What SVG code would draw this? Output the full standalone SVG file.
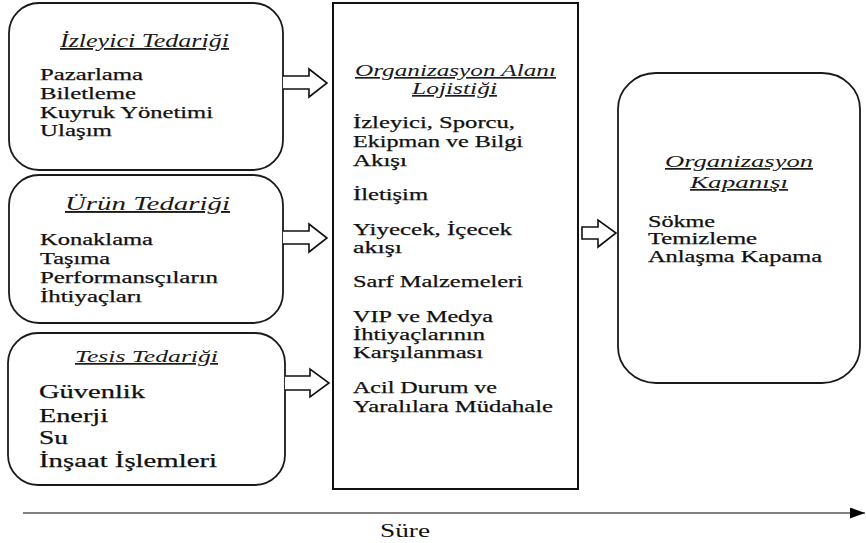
<svg xmlns="http://www.w3.org/2000/svg" width="866" height="543" viewBox="0 0 866 543">
<defs>
<style>
.box{fill:#fff;stroke:#1a1a1a;stroke-width:1.8}
.t{font-family:'Liberation Serif','Times New Roman',serif;font-style:italic;fill:#1a1a1a;text-decoration:underline}
.b{font-family:'Liberation Serif','Times New Roman',serif;fill:#111;stroke:#111;stroke-width:0.25}
.arr{fill:#fff;stroke:#111;stroke-width:1.6;stroke-linejoin:miter}
</style>
<marker id="ah" viewBox="0 0 15 11" refX="15" refY="5.5" markerWidth="15" markerHeight="11" markerUnits="userSpaceOnUse" orient="auto">
<path d="M0,0 L15,5.5 L0,11 Z" fill="#000"/>
</marker>
</defs>
<rect width="866" height="543" fill="#fff"/>

<g id="izleyici">
<rect class="box" x="9" y="3" width="274" height="167" rx="30" ry="30"/>
<text class="t" x="60" y="47" font-size="18" textLength="169" lengthAdjust="spacingAndGlyphs">İzleyici Tedariği</text>
<text class="b" font-size="17" x="40" y="80" textLength="103" lengthAdjust="spacingAndGlyphs">Pazarlama</text>
<text class="b" font-size="17" x="40" y="99" textLength="96" lengthAdjust="spacingAndGlyphs">Biletleme</text>
<text class="b" font-size="17" x="40" y="118" textLength="173" lengthAdjust="spacingAndGlyphs">Kuyruk Yönetimi</text>
<text class="b" font-size="17" x="40" y="136" textLength="72" lengthAdjust="spacingAndGlyphs">Ulaşım</text>
</g>

<g id="urun">
<rect class="box" x="9" y="175" width="274" height="148" rx="30" ry="30"/>
<text class="t" x="65" y="210" font-size="19" textLength="165" lengthAdjust="spacingAndGlyphs">Ürün Tedariği</text>
<text class="b" font-size="17" x="40" y="245" textLength="113" lengthAdjust="spacingAndGlyphs">Konaklama</text>
<text class="b" font-size="17" x="40" y="264" textLength="70" lengthAdjust="spacingAndGlyphs">Taşıma</text>
<text class="b" font-size="17" x="40" y="283" textLength="178" lengthAdjust="spacingAndGlyphs">Performansçıların</text>
<text class="b" font-size="17" x="40" y="302" textLength="102" lengthAdjust="spacingAndGlyphs">İhtiyaçları</text>
</g>

<g id="tesis">
<rect class="box" x="8" y="333" width="277" height="152" rx="30" ry="30"/>
<text class="t" x="75" y="362" font-size="17" textLength="143" lengthAdjust="spacingAndGlyphs">Tesis Tedariği</text>
<text class="b" font-size="19" x="39" y="398" textLength="106" lengthAdjust="spacingAndGlyphs">Güvenlik</text>
<text class="b" font-size="19" x="39" y="422" textLength="69" lengthAdjust="spacingAndGlyphs">Enerji</text>
<text class="b" font-size="19" x="39" y="444" textLength="29" lengthAdjust="spacingAndGlyphs">Su</text>
<text class="b" font-size="19" x="39" y="467" textLength="178" lengthAdjust="spacingAndGlyphs">İnşaat İşlemleri</text>
</g>

<g id="alan">
<rect x="333" y="3" width="245" height="486" fill="#fff" stroke="#111" stroke-width="2"/>
<text class="t" x="355" y="76" font-size="16.5" textLength="201" lengthAdjust="spacingAndGlyphs">Organizasyon Alanı</text>
<text class="t" x="412" y="94" font-size="16.5" textLength="85" lengthAdjust="spacingAndGlyphs">Lojistiği</text>
<text class="b" font-size="17" x="353" y="128" textLength="162" lengthAdjust="spacingAndGlyphs">İzleyici, Sporcu,</text>
<text class="b" font-size="17" x="353" y="147" textLength="170" lengthAdjust="spacingAndGlyphs">Ekipman ve Bilgi</text>
<text class="b" font-size="17" x="353" y="166" textLength="54" lengthAdjust="spacingAndGlyphs">Akışı</text>
<text class="b" font-size="17" x="353" y="200" textLength="75" lengthAdjust="spacingAndGlyphs">İletişim</text>
<text class="b" font-size="17" x="353" y="235" textLength="159" lengthAdjust="spacingAndGlyphs">Yiyecek, İçecek</text>
<text class="b" font-size="17" x="353" y="253" textLength="49" lengthAdjust="spacingAndGlyphs">akışı</text>
<text class="b" font-size="17" x="353" y="287" textLength="170" lengthAdjust="spacingAndGlyphs">Sarf Malzemeleri</text>
<text class="b" font-size="17" x="353" y="322" textLength="140" lengthAdjust="spacingAndGlyphs">VIP ve Medya</text>
<text class="b" font-size="17" x="353" y="340" textLength="132" lengthAdjust="spacingAndGlyphs">İhtiyaçlarının</text>
<text class="b" font-size="17" x="353" y="358" textLength="130" lengthAdjust="spacingAndGlyphs">Karşılanması</text>
<text class="b" font-size="17" x="353" y="393" textLength="144" lengthAdjust="spacingAndGlyphs">Acil Durum ve</text>
<text class="b" font-size="17" x="353" y="412" textLength="200" lengthAdjust="spacingAndGlyphs">Yaralılara Müdahale</text>
</g>

<g id="kapanis">
<rect class="box" x="618" y="73" width="242" height="310" rx="38" ry="36"/>
<text class="t" x="665" y="167" font-size="17" textLength="148" lengthAdjust="spacingAndGlyphs">Organizasyon</text>
<text class="t" x="690" y="188" font-size="17" textLength="98" lengthAdjust="spacingAndGlyphs">Kapanışı</text>
<text class="b" font-size="16" x="648" y="227" textLength="67" lengthAdjust="spacingAndGlyphs">Sökme</text>
<text class="b" font-size="16" x="648" y="244" textLength="109" lengthAdjust="spacingAndGlyphs">Temizleme</text>
<text class="b" font-size="16" x="648" y="262" textLength="174" lengthAdjust="spacingAndGlyphs">Anlaşma Kapama</text>
</g>

<g id="connectors">
<path class="arr" d="M283,76 L309,76 L309,69 L327,83 L309,97 L309,89 L283,89"/>
<path class="arr" d="M283,231 L309,231 L309,224 L327,238 L309,252 L309,244 L283,244"/>
<path class="arr" d="M285,376 L310,376 L310,369 L329,383 L310,397 L310,390 L285,390"/>
<path class="arr" d="M582,227 L598,227 L598,220 L616,233 L598,247 L598,239 L582,239 Z"/>
<line x1="23" y1="513" x2="865" y2="513" stroke="#555" stroke-width="1.6" marker-end="url(#ah)"/>
</g>

<text font-family="'Liberation Serif','Times New Roman',serif" font-size="18" fill="#111" x="380" y="537" textLength="50" lengthAdjust="spacingAndGlyphs">Süre</text>
</svg>
